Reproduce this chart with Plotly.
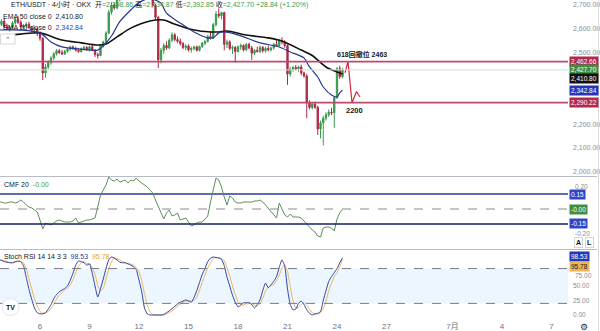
import pandas as pd
import plotly.graph_objects as go

# ---------------- ETH/USDT 4h candles (OKX) ----------------
start = "2025-06-03 12:00"
opens = [2610, 2618, 2632, 2610, 2600, 2606, 2625, 2640, 2628, 2608,
         2612, 2620, 2605, 2595, 2600, 2582, 2560, 2415, 2440, 2458,
         2478, 2495, 2508, 2500, 2495, 2506, 2515, 2524, 2518, 2510,
         2505, 2516, 2522, 2512, 2525, 2510, 2492, 2488, 2530, 2545,
         2582, 2670, 2700, 2688, 2722, 2765, 2790, 2832, 2860, 2835,
         2805, 2815, 2780, 2770, 2755, 2745, 2735, 2698, 2648, 2470,
         2510, 2530, 2520, 2552, 2575, 2555, 2548, 2538, 2522, 2528,
         2512, 2518, 2524, 2510, 2526, 2540, 2548, 2568, 2562, 2618,
         2662, 2655, 2668, 2535, 2545, 2518, 2522, 2505, 2525, 2530,
         2512, 2535, 2520, 2498, 2510, 2505, 2522, 2508, 2518, 2512,
         2520, 2535, 2530, 2550, 2545, 2530, 2410, 2430, 2438, 2432,
         2440, 2415, 2402, 2290, 2270, 2285, 2270, 2180, 2205, 2225,
         2240, 2250, 2248, 2312, 2432, 2398.86]
highs = [2625, 2640, 2645, 2622, 2615, 2632, 2650, 2655, 2636, 2620,
         2628, 2630, 2612, 2608, 2606, 2590, 2565, 2452, 2468, 2485,
         2502, 2515, 2516, 2512, 2512, 2522, 2530, 2530, 2525, 2520,
         2522, 2530, 2528, 2530, 2532, 2515, 2500, 2535, 2550, 2590,
         2680, 2712, 2708, 2730, 2775, 2800, 2840, 2880, 2875, 2850,
         2830, 2825, 2800, 2790, 2770, 2760, 2745, 2705, 2655, 2520,
         2540, 2548, 2560, 2585, 2582, 2568, 2560, 2545, 2535, 2535,
         2525, 2530, 2530, 2530, 2545, 2552, 2575, 2590, 2625, 2675,
         2685, 2672, 2672, 2555, 2552, 2530, 2528, 2530, 2538, 2535,
         2540, 2542, 2528, 2515, 2525, 2530, 2528, 2525, 2530, 2525,
         2540, 2550, 2555, 2565, 2552, 2535, 2440, 2445, 2448, 2445,
         2450, 2420, 2410, 2300, 2290, 2295, 2278, 2215, 2235, 2250,
         2262, 2268, 2318, 2440, 2445, 2434.87]
lows = [2600, 2612, 2605, 2595, 2588, 2600, 2618, 2620, 2600, 2596,
        2604, 2598, 2585, 2580, 2570, 2550, 2385, 2395, 2432, 2450,
        2470, 2488, 2495, 2490, 2490, 2500, 2508, 2512, 2505, 2500,
        2500, 2510, 2508, 2505, 2506, 2482, 2475, 2485, 2522, 2540,
        2578, 2660, 2680, 2682, 2715, 2750, 2780, 2815, 2820, 2790,
        2785, 2770, 2750, 2740, 2730, 2725, 2690, 2640, 2436, 2455,
        2495, 2512, 2515, 2545, 2548, 2540, 2530, 2515, 2510, 2505,
        2500, 2510, 2505, 2505, 2520, 2532, 2542, 2555, 2558, 2610,
        2645, 2640, 2510, 2520, 2510, 2495, 2457, 2500, 2512, 2505,
        2508, 2515, 2470, 2490, 2500, 2498, 2500, 2500, 2505, 2505,
        2512, 2525, 2525, 2535, 2520, 2365, 2400, 2420, 2425, 2420,
        2405, 2395, 2225, 2262, 2262, 2265, 2155, 2140, 2111, 2215,
        2230, 2238, 2185, 2305, 2390, 2392.85]
closes = [2618, 2632, 2610, 2600, 2606, 2625, 2640, 2628, 2608, 2612,
          2620, 2605, 2595, 2600, 2582, 2560, 2415, 2440, 2458, 2478,
          2495, 2508, 2500, 2495, 2506, 2515, 2524, 2518, 2510, 2505,
          2516, 2522, 2512, 2525, 2510, 2492, 2488, 2530, 2545, 2582,
          2670, 2700, 2688, 2722, 2765, 2790, 2832, 2860, 2835, 2805,
          2815, 2780, 2770, 2755, 2745, 2735, 2698, 2648, 2470, 2510,
          2530, 2520, 2552, 2575, 2555, 2548, 2538, 2522, 2528, 2512,
          2518, 2524, 2510, 2526, 2540, 2548, 2568, 2562, 2618, 2662,
          2655, 2668, 2535, 2545, 2518, 2522, 2505, 2525, 2530, 2512,
          2535, 2520, 2498, 2510, 2505, 2522, 2508, 2518, 2512, 2520,
          2535, 2530, 2550, 2545, 2530, 2410, 2430, 2438, 2432, 2440,
          2415, 2402, 2290, 2270, 2285, 2270, 2180, 2205, 2225, 2240,
          2250, 2248, 2312, 2432, 2398.86, 2427.70]
times = pd.date_range(start, periods=len(closes), freq="4h")

# EMA curves (candle index -> value)
ema50_idx = [0, 8, 15, 23, 30, 36, 39, 43, 48, 55, 60, 63, 71, 77, 80, 83,
             90, 98, 103, 110, 114, 119, 123, 125]
ema50_val = [2570, 2578, 2583, 2553, 2541, 2532, 2536, 2566, 2603, 2633,
             2637, 2624, 2595, 2587, 2587, 2591, 2574, 2562, 2549, 2511,
             2488, 2440, 2419, 2410.80]
ema20_idx = [0, 8, 15, 19, 23, 30, 36, 38, 41, 44, 48, 51, 54, 57, 59, 61,
             66, 71, 76, 78, 80, 82, 86, 90, 95, 102, 106, 111, 113, 116,
             118, 121, 123, 124, 125]
ema20_val = [2595, 2595, 2583, 2545, 2524, 2515, 2511, 2528, 2570, 2630,
             2679, 2710, 2725, 2720, 2708, 2666, 2624, 2587, 2562, 2562,
             2583, 2587, 2578, 2562, 2541, 2524, 2503, 2478, 2440, 2398,
             2356, 2322, 2314, 2331, 2342.84]

# Horizontal levels and the drawn projection
levels = [2462.66, 2290.22]
path_time = ["2025-06-24 11:40", "2025-06-24 16:00", "2025-06-24 21:50",
             "2025-06-25 04:20", "2025-06-25 09:30"]
path_price = [2415, 2463, 2290, 2337, 2314]

# Chaikin Money Flow (20)
cmf = [0.07, 0.07, 0.06, 0.06, 0.07, 0.07, 0.06, 0.07, 0.09, 0.07,
       0.04, 0.02, 0.01, -0.01, -0.03, -0.11, -0.20, -0.14, -0.15, -0.16,
       -0.14, -0.12, -0.11, -0.12, -0.13, -0.13, -0.13, -0.12, -0.09, -0.14,
       -0.13, -0.12, -0.11, -0.11, -0.10, -0.09, 0.02, 0.14, 0.19, 0.24,
       0.32, 0.29, 0.28, 0.30, 0.27, 0.28, 0.29, 0.26, 0.29, 0.28,
       0.31, 0.28, 0.26, 0.24, 0.22, 0.19, 0.16, 0.09, 0.02, -0.05,
       -0.10, -0.04, -0.01, -0.07, -0.06, -0.04, -0.11, -0.10, -0.09, -0.13,
       -0.17, -0.16, -0.14, -0.13, -0.13, -0.10, -0.07, 0.07, 0.19, 0.31,
       0.29, 0.22, 0.12, 0.04, 0.13, 0.11, 0.07, 0.06, 0.06, 0.07,
       0.07, 0.07, 0.07, 0.08, 0.08, 0.09, 0.07, 0.04, 0.01, -0.03,
       -0.06, -0.09, 0.06, -0.01, -0.06, -0.08, -0.05, -0.08, -0.08, -0.08,
       -0.09, -0.12, -0.15, -0.19, -0.21, -0.23, -0.27, -0.28, -0.19, -0.18,
       -0.18, -0.19, -0.22, -0.10, -0.04, -0.003]

# Stochastic RSI 14 14 3 3
stoch_k = [95, 94, 92, 91, 90, 90, 92, 93, 92, 85,
           65, 44, 27, 12, 4, 2, 2, 4, 10, 18,
           28, 35, 40, 43, 46, 50, 60, 72, 86, 93,
           92, 90, 86, 88, 72, 50, 31, 45, 62, 80,
           95, 100, 98, 95, 91, 90, 90, 88, 86, 83,
           78, 60, 40, 12, 2, 0, 0, 0, 0, 0,
           1, 4, 7, 11, 15, 19, 22, 24, 26, 24,
           22, 30, 42, 56, 70, 80, 92, 98, 100, 99,
           98, 96, 85, 65, 50, 34, 22, 14, 17, 21,
           21, 21, 18, 12, 18, 26, 42, 55, 47, 52,
           58, 66, 82, 95, 84, 45, 18, 9, 10, 20,
           24, 18, 9, 3, 0, 2, 3, 6, 25, 42,
           58, 66, 73, 80, 90, 98.53]
stoch_d = [96, 95, 94, 92, 91, 90, 91, 92, 92, 90,
           80, 62, 45, 28, 15, 6, 3, 3, 6, 11,
           19, 27, 34, 39, 43, 46, 52, 61, 73, 84,
           90, 92, 89, 88, 82, 70, 51, 42, 46, 62,
           79, 92, 98, 97, 95, 92, 90, 89, 88, 86,
           82, 74, 59, 37, 18, 5, 1, 0, 0, 0,
           0, 2, 4, 7, 11, 15, 19, 22, 24, 25,
           24, 25, 31, 43, 56, 69, 81, 90, 97, 99,
           99, 98, 93, 82, 67, 50, 35, 23, 18, 17,
           20, 21, 20, 17, 16, 19, 29, 41, 48, 51,
           52, 59, 69, 81, 87, 75, 49, 24, 12, 13,
           18, 21, 17, 10, 4, 2, 2, 4, 11, 24,
           42, 55, 66, 73, 84, 95.78]

# Axis labels
price_ticks = [2700, 2600, 2500, 2200, 2100, 2000]
cmf_ticks = [0.20, -0.20]
stoch_ticks = [75, 50, 25, 0]
date_ticks = ["2025-06-06", "2025-06-09", "2025-06-12", "2025-06-15",
              "2025-06-18", "2025-06-21", "2025-06-24", "2025-06-27",
              "2025-07-01", "2025-07-04", "2025-07-07"]
date_labels = ["6", "9", "12", "15", "18", "21", "24", "27", "7月", "4", "7"]

# ---------------- styling ----------------
W, H = 600, 331
PR = 568 / W                      # right edge of the chart panes
FONT = "Liberation Sans, Noto Sans CJK SC, sans-serif"
GREEN = "#3a9a4c"
RED = "#ad2a47"
LEVEL = "#bd4a6d"
BLUE = "#2b44a6"
ORANGE = "#eeb35e"
AXIS_TXT = "#8a8d96"


def py(px):
    return 1 - px / H


def px_x(px):
    return px / W


fig = go.Figure()

fig.add_trace(go.Candlestick(
    x=times, open=opens, high=highs, low=lows, close=closes,
    increasing=dict(line=dict(color=GREEN, width=1), fillcolor=GREEN),
    decreasing=dict(line=dict(color=RED, width=1), fillcolor=RED),
    whiskerwidth=0, showlegend=False, hoverinfo="skip",
    xaxis="x", yaxis="y"))

fig.add_trace(go.Scatter(
    x=times[ema50_idx], y=ema50_val, mode="lines",
    line=dict(color="#111111", width=1.6, shape="spline", smoothing=0.8),
    showlegend=False, hoverinfo="skip", xaxis="x", yaxis="y"))
fig.add_trace(go.Scatter(
    x=times[ema20_idx], y=ema20_val, mode="lines",
    line=dict(color="#26388f", width=1.2, shape="spline", smoothing=0.8),
    showlegend=False, hoverinfo="skip", xaxis="x", yaxis="y"))

fig.add_trace(go.Scatter(
    x=pd.to_datetime(path_time), y=path_price, mode="lines",
    line=dict(color="#d3283f", width=1.2),
    showlegend=False, hoverinfo="skip", xaxis="x", yaxis="y"))

fig.add_trace(go.Scatter(
    x=times, y=cmf, mode="lines", line=dict(color="#5f8f5b", width=1),
    showlegend=False, hoverinfo="skip", xaxis="x2", yaxis="y2"))

fig.add_trace(go.Scatter(
    x=times, y=stoch_d, mode="lines",
    line=dict(color=ORANGE, width=1, shape="spline", smoothing=0.5),
    showlegend=False, hoverinfo="skip", xaxis="x3", yaxis="y3"))
fig.add_trace(go.Scatter(
    x=times, y=stoch_k, mode="lines",
    line=dict(color=BLUE, width=1, shape="spline", smoothing=0.5),
    showlegend=False, hoverinfo="skip", xaxis="x3", yaxis="y3"))

x0 = pd.Timestamp("2025-06-06") - pd.Timedelta(days=40 / 16.5)
x1 = pd.Timestamp("2025-07-08")

shapes = []
# resistance / support levels
for lv in levels:
    shapes.append(dict(type="line", xref="paper", yref="y", x0=0, x1=PR,
                       y0=lv, y1=lv, line=dict(color=LEVEL, width=1.8)))
# last price line
shapes.append(dict(type="line", xref="paper", yref="y", x0=0, x1=PR,
                   y0=closes[-1], y1=closes[-1],
                   line=dict(color="#cfe2cf", width=1)))
# CMF guide lines
shapes.append(dict(type="line", xref="paper", yref="y2", x0=0, x1=PR,
                   y0=0.15, y1=0.15, line=dict(color="#5d6eae", width=2)))
shapes.append(dict(type="line", xref="paper", yref="y2", x0=0, x1=PR,
                   y0=-0.15, y1=-0.15, line=dict(color="#16206b", width=1.6)))
shapes.append(dict(type="line", xref="paper", yref="y2", x0=0, x1=PR,
                   y0=0, y1=0, line=dict(color="#8a8a8a", width=1, dash="dash")))
# Stoch RSI band
shapes.append(dict(type="rect", xref="paper", yref="y3", x0=0, x1=PR,
                   y0=20, y1=80, fillcolor="rgba(33,150,243,0.09)",
                   line=dict(width=0), layer="below"))
for b in (20, 80):
    shapes.append(dict(type="line", xref="paper", yref="y3", x0=0, x1=PR,
                       y0=b, y1=b,
                       line=dict(color="#787b86", width=1, dash="dash")))
# pane separators and right border
for sep in (176.5, 249.5):
    shapes.append(dict(type="line", xref="paper", yref="paper", x0=0,
                       x1=px_x(597), y0=py(sep), y1=py(sep),
                       line=dict(color="#b9bcc4", width=1)))
shapes.append(dict(type="line", xref="paper", yref="paper",
                   x0=px_x(598.5), x1=px_x(598.5), y0=0, y1=1,
                   line=dict(color="#d9dbe0", width=1)))
# TradingView badge
shapes.append(dict(type="circle", xref="paper", yref="paper",
                   x0=px_x(2), x1=px_x(19), y0=py(315.5), y1=py(298.5),
                   fillcolor="white", line=dict(color="#e3e5ea", width=1)))
# legend collapse button
shapes.append(dict(type="rect", xref="paper", yref="paper",
                   x0=px_x(0.5), x1=px_x(15), y0=py(44), y1=py(34),
                   fillcolor="white", line=dict(color="#d4d6dc", width=1)))

annotations = []


def text(x_px, y_px, s, size=8, color="#131722", anchor="left", bold=False):
    if bold:
        s = "<b>" + s + "</b>"
    annotations.append(dict(xref="paper", yref="paper", x=px_x(x_px),
                            y=py(y_px), text=s, showarrow=False,
                            xanchor=anchor, yanchor="middle",
                            font=dict(size=size, color=color, family=FONT)))


def tag(yref, val, s, bg, yshift=0, fg="white"):
    annotations.append(dict(xref="paper", yref=yref, x=px_x(569), y=val,
                            yshift=yshift, text=s, showarrow=False,
                            xanchor="left", yanchor="middle", bgcolor=bg,
                            borderpad=1,
                            font=dict(size=6.5, color=fg, family=FONT)))


up = "#3c9b50"
last_o, last_h, last_l, last_c = opens[-1], highs[-1], lows[-1], closes[-1]
chg = last_c - closes[-2]
pct = chg / closes[-2] * 100
head = ("ETH/USDT · 4小时 · OKX  "
        f"开<span style='color:{up}'>={last_o:,.2f}</span> "
        f"高<span style='color:{up}'>={last_h:,.2f}</span> "
        f"低<span style='color:{up}'>={last_l:,.2f}</span> "
        f"收<span style='color:{up}'>={last_c:,.2f}</span> "
        f"<span style='color:{up}'>{chg:+.2f} ({pct:+.2f}%)</span>")
text(9, 5, head, size=7)
text(1, 16, f"EMA 50 close 0  {ema50_val[-1]:,.2f}", size=7)
text(1, 28, f"EMA 20 close 0  <span style='color:#2b44c0'>{ema20_val[-1]:,.2f}</span>", size=7)
text(2, 184, f"CMF 20  <span style='color:{up}'>{cmf[-1]:.2f}</span>", size=7)
text(2, 256, f"Stoch RSI 14 14 3 3  <span style='color:{BLUE}'>{stoch_k[-1]:.2f}</span>"
     f"  <span style='color:#e0a545'>{stoch_d[-1]:.2f}</span>", size=7)
text(7.75, 39, "⌃", size=7, color="#5d606b", anchor="center")

# indicator scale labels that sit next to the value tags
text(573, 186, f"{cmf_ticks[0]:.2f}", size=6.5, color=AXIS_TXT)
text(573, 233.5, f"{cmf_ticks[1]:.2f}", size=6.5, color=AXIS_TXT)
text(573, 275, f"{stoch_ticks[0]:.2f}", size=6.5, color=AXIS_TXT)

# chart notes
annotations.append(dict(xref="x", yref="y", x=pd.Timestamp("2025-06-25 12:20"),
                        y=2492, text="<b>618回撤位 2463</b>", showarrow=False,
                        xanchor="center", yanchor="middle",
                        font=dict(size=7, color="#131722", family=FONT)))
annotations.append(dict(xref="x", yref="y", x=pd.Timestamp("2025-06-25 02:10"),
                        y=2259, text="<b>2200</b>", showarrow=False,
                        xanchor="center", yanchor="middle",
                        font=dict(size=7.5, color="#131722", family=FONT)))

# right-hand value tags
tag("y", levels[0], f"{levels[0]:,.2f}", "#b0294f")
tag("y", last_c, f"{last_c:,.2f}", "#3e8e43")
tag("y", ema50_val[-1], f"{ema50_val[-1]:,.2f}", "#111111", yshift=-5)
tag("y", ema20_val[-1], f"{ema20_val[-1]:,.2f}", "#2337b8")
tag("y", levels[1], f"{levels[1]:,.2f}", "#b0294f")
tag("y2", 0.15, "0.15", "#2f47c4")
tag("y2", cmf[-1], f"{cmf[-1]:.2f}", "#3e8e43")
tag("y2", -0.15, "-0.15", "#2f47c4", yshift=1)
tag("y3", stoch_k[-1], f"{stoch_k[-1]:.2f}", "#2337b8", yshift=1)
tag("y3", stoch_d[-1], f"{stoch_d[-1]:.2f}", "#f0b35a", yshift=-7,
    fg="#131722")

# small pane controls
for xp, s in ((578.5, "A"), (589.5, "L")):
    annotations.append(dict(xref="paper", yref="paper", x=px_x(xp), y=py(242),
                            text=f"<b>{s}</b>", showarrow=False,
                            xanchor="center", yanchor="middle",
                            bordercolor="#d4d6dc", borderwidth=1, borderpad=1,
                            bgcolor="white",
                            font=dict(size=7, color="#131722", family=FONT)))
text(10.5, 307, "<b>TV</b>", size=7, anchor="center")
text(584, 327, "⚙", size=9, color="#2a2e39", anchor="center")

fig.update_layout(
    width=W, height=H, margin=dict(l=0, r=0, t=0, b=0),
    paper_bgcolor="white", plot_bgcolor="white",
    showlegend=False, shapes=shapes, annotations=annotations,
    font=dict(family=FONT),
    xaxis=dict(domain=[0, PR], range=[x0, x1], anchor="y", type="date",
               showticklabels=False, showgrid=False, zeroline=False,
               rangeslider=dict(visible=False), fixedrange=True),
    xaxis2=dict(domain=[0, PR], matches="x", anchor="y2", type="date",
                showticklabels=False, showgrid=False, zeroline=False),
    xaxis3=dict(domain=[0, PR], matches="x", anchor="y3", type="date",
                tickvals=pd.to_datetime(date_ticks), ticktext=date_labels,
                tickfont=dict(size=8, color="#6f7280"), ticks="",
                showgrid=False, zeroline=False),
    yaxis=dict(domain=[py(176), 1], range=[1982.5, 2721], side="right",
               anchor="x", tickvals=price_ticks,
               ticktext=[f"{v:,.2f}" for v in price_ticks],
               tickfont=dict(size=7, color=AXIS_TXT), ticks="",
               ticklabelstandoff=4, showgrid=False, zeroline=False),
    yaxis2=dict(domain=[py(249), py(177)], range=[-0.40, 0.32], side="right",
                anchor="x2", showticklabels=False, ticks="",
                showgrid=False, zeroline=False),
    yaxis3=dict(domain=[py(320), py(250)], range=[-8.6, 112], side="right",
                anchor="x3", tickvals=stoch_ticks[1:],
                ticktext=[f"{v:.2f}" for v in stoch_ticks[1:]],
                tickfont=dict(size=6.5, color=AXIS_TXT), ticks="",
                ticklabelstandoff=4, showgrid=False, zeroline=False),
)

fig.write_html("out.html")
